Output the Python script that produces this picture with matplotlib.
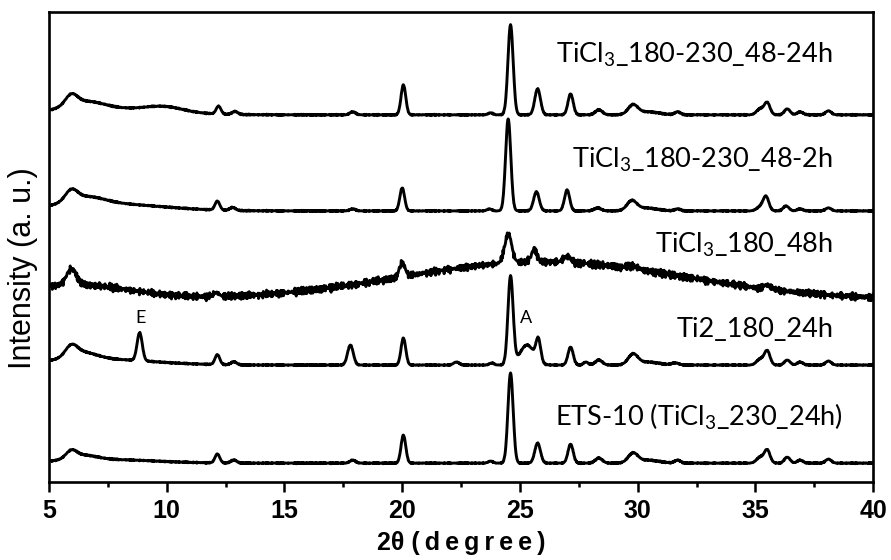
import numpy as np
import matplotlib
matplotlib.use('Agg')
import matplotlib.pyplot as plt
import matplotlib.ticker as ticker

# 2-theta grid of the scans
TWO_THETA = np.arange(5.0, 40.0001, 0.02)

# flat baseline of each scan (stack offset, a.u.)
OFFSET_ETS10 = 19
OFFSET_TI2 = 117
OFFSET_180_48 = 182
OFFSET_48_2 = 271
OFFSET_48_24 = 367

# peaks: centre (deg), height (a.u.), sigma (deg)
ETS10_POS = [5.95, 6.4, 7.5, 12.15, 12.85, 17.9, 20.05, 23.75, 24.6, 25.75, 27.15,
             28.35, 29.8, 30.4, 31.7, 35.2, 35.5, 36.35, 36.9, 38.1]
ETS10_HGT = [7, 5, 3.5, 9, 3, 3, 28, 2, 90, 20, 19, 5, 9, 3, 3, 6, 13, 6, 3, 4]
ETS10_SIG = [0.22, 0.6, 2.0, 0.1, 0.12, 0.12, 0.1, 0.1, 0.11, 0.12, 0.11,
             0.15, 0.2, 0.5, 0.12, 0.15, 0.12, 0.12, 0.12, 0.12]

TI2_POS = [5.95, 6.4, 7.0, 8.85, 12.15, 12.85, 17.8, 20.05, 22.3, 23.8, 24.6, 25.3,
           25.78, 27.15, 27.8, 28.35, 29.8, 30.4, 31.6, 35.2, 35.5, 36.35, 36.9, 38.1]
TI2_HGT = [10, 7, 6, 28, 10, 3, 20, 27, 3, 2, 88, 20, 22, 18, 3, 5, 10, 3, 2, 6, 14, 5, 3, 4]
TI2_SIG = [0.25, 0.6, 2.3, 0.11, 0.1, 0.12, 0.12, 0.1, 0.12, 0.1, 0.11, 0.3,
           0.1, 0.11, 0.1, 0.15, 0.2, 0.5, 0.15, 0.15, 0.12, 0.12, 0.12, 0.12]

T180_48_POS = [5.95, 6.0, 26.0, 12.1, 20.0, 24.5, 25.6, 27.0, 29.8, 35.5]
T180_48_HGT = [16, 15, 38, 4, 14, 29, 12, 6, 3, 4]
T180_48_SIG = [0.2, 2.5, 6.0, 0.12, 0.12, 0.15, 0.12, 0.15, 0.2, 0.15]

T48_2_POS = [5.95, 6.5, 7.5, 12.15, 12.8, 17.9, 20.0, 23.7, 24.5, 25.7, 27.0, 28.3,
             29.75, 30.3, 31.7, 35.2, 35.45, 36.3, 36.9, 38.1]
T48_2_HGT = [10, 8, 7, 9, 3, 2, 23, 2, 92, 19, 21, 3, 9, 3, 2, 4, 14, 5, 2, 3]
T48_2_SIG = [0.25, 0.8, 2.3, 0.1, 0.12, 0.12, 0.1, 0.1, 0.11, 0.12, 0.11, 0.15,
             0.2, 0.5, 0.12, 0.15, 0.12, 0.12, 0.12, 0.12]

T48_24_POS = [5.95, 6.5, 7.5, 9.9, 12.2, 12.9, 17.9, 20.05, 23.75, 24.6, 25.75, 27.15,
              28.35, 29.8, 30.4, 31.7, 35.2, 35.5, 36.35, 36.9, 38.1]
T48_24_HGT = [10, 8, 6, 5, 8, 3, 3, 30, 2, 90, 26, 21, 5, 9, 3, 3, 6, 12, 6, 3, 4]
T48_24_SIG = [0.25, 0.8, 2.3, 0.8, 0.1, 0.12, 0.12, 0.1, 0.1, 0.11, 0.12, 0.11,
              0.15, 0.2, 0.5, 0.12, 0.15, 0.12, 0.12, 0.12, 0.12]

# counting jitter, typed in by hand (two lengths so the pattern does not repeat)
JITTER_A = [0.3, -0.8, 0.6, -0.2, 0.9, -0.5, 0.1, -1.0, 0.7, 0.2, -0.6, 0.8, -0.3,
            0.5, -0.9, 0.0, 0.6, -0.4, 1.0, -0.7, 0.2, -0.1, 0.8, -0.6, 0.4, -0.9,
            0.5, 0.1, -0.3, 0.7, -0.8, 0.3, -0.2, 0.9, -0.5, 0.6, -0.4]
JITTER_B = [-0.4, 0.7, -0.1, 0.5, -0.9, 0.2, 0.8, -0.6, 0.3, -0.2, 0.9, -0.7, 0.1,
            0.6, -0.5, 0.4, -1.0, 0.7, -0.3, 0.2, 0.5, -0.8, 0.0, 0.9, -0.4, 0.3,
            -0.6, 0.8, -0.2, 0.4, -0.9, 0.6, 0.1, -0.5, 0.7, -0.3, 0.2, -0.7, 0.9,
            -0.1, 0.4, -0.8, 0.5, 0.0, -0.6, 0.8, -0.2, 0.3, -0.9, 0.6, -0.4, 0.1, 0.7]

LABELS = [r'ETS-10 (TiCl$_\mathregular{3}$_230_24h)',
          'Ti2_180_24h',
          r'TiCl$_\mathregular{3}$_180_48h',
          r'TiCl$_\mathregular{3}$_180-230_48-2h',
          r'TiCl$_\mathregular{3}$_180-230_48-24h']
LABEL_X = [38.7, 38.3, 38.3, 38.3, 38.3]
LABEL_Y = [57, 145, 229, 314, 419]

MARKS = ['E', 'A']
MARK_X = [8.89, 25.26]
MARK_Y = [159, 159]


def pattern(offset, pos, hgt, sig, noise):
    y = np.full_like(TWO_THETA, float(offset))
    for c, h, s in zip(pos, hgt, sig):
        y += h * np.exp(-(TWO_THETA - c) ** 2 / (2 * s ** 2))
    n = len(TWO_THETA)
    ja = np.resize(JITTER_A, n)
    jb = np.resize(JITTER_B, n)
    return y + noise * (ja + jb) / 2


scans = [
    (OFFSET_ETS10, ETS10_POS, ETS10_HGT, ETS10_SIG, 0.7),
    (OFFSET_TI2, TI2_POS, TI2_HGT, TI2_SIG, 0.7),
    (OFFSET_180_48, T180_48_POS, T180_48_HGT, T180_48_SIG, 4.5),
    (OFFSET_48_2, T48_2_POS, T48_2_HGT, T48_2_SIG, 0.7),
    (OFFSET_48_24, T48_24_POS, T48_24_HGT, T48_24_SIG, 0.7),
]

fig = plt.figure(figsize=(8.91, 5.60), dpi=100)
ax = fig.add_axes([0.055, 0.139, 0.925, 0.840])

for off, pos, hgt, sig, nz in scans:
    ax.plot(TWO_THETA, pattern(off, pos, hgt, sig, nz), color='black', lw=2.1)

for lab, lx, ly in zip(LABELS, LABEL_X, LABEL_Y):
    ax.text(lx, ly, lab, ha='right', va='baseline', fontsize=19.5, family='Lato')

for m, mx, my in zip(MARKS, MARK_X, MARK_Y):
    ax.text(mx, my, m, ha='center', va='baseline', fontsize=13, family='Lato')

ax.set_xlim(5, 40)
ax.set_ylim(0, 470)
ax.set_yticks([])
ax.xaxis.set_major_locator(ticker.MultipleLocator(5))
ax.xaxis.set_minor_locator(ticker.MultipleLocator(2.5))
ax.tick_params(axis='x', which='major', direction='out', length=7, width=1.8, pad=5)
ax.tick_params(axis='x', which='minor', direction='out', length=3.5, width=1.8)
for lbl in ax.get_xticklabels():
    lbl.set_fontfamily('Liberation Sans')
    lbl.set_fontweight('bold')
    lbl.set_fontsize(18)
for sp in ax.spines.values():
    sp.set_linewidth(1.9)

ts = '\u2009'
ax.set_xlabel('2θ ' + ts.join('(degree)'), fontsize=18, fontweight='bold',
              family=['Liberation Sans', 'DejaVu Sans'], labelpad=6)
ax.set_ylabel('Intensity (a. u.)', fontsize=22, family='Liberation Sans')
ax.yaxis.set_label_coords(-0.013, 0.455)

plt.savefig('out.png', dpi=100)
